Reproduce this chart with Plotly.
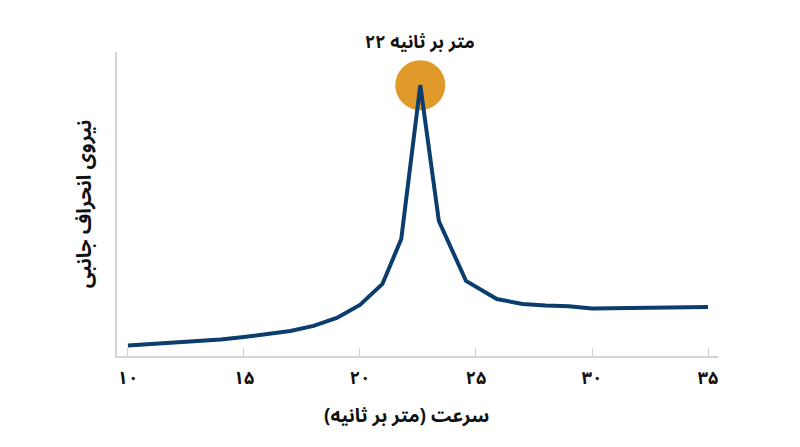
import plotly.graph_objects as go

# speed (m/s) and lateral deflection force (arbitrary units, 0-100)
speed = [10, 11, 12, 13, 14, 15, 16, 17, 18, 19, 20, 20.97, 21.78, 22.6, 23.4,
         24.57, 25.9, 27, 28, 29, 30, 31, 32, 33, 34, 35]
force = [3.45, 3.95, 4.4, 4.9, 5.4, 6.25, 7.1, 8.2, 9.9, 12.5, 16.8, 23.7, 38.5,
         89.1, 44.4, 24.7, 18.75, 17.1, 16.6, 16.4, 15.6, 15.7, 15.8, 15.9, 16.0, 16.1]

tick_vals = [10, 15, 20, 25, 30, 35]
tick_text = ["۱۰", "۱۵", "۲۰", "۲۵", "۳۰", "۳۵"]

peak_i = force.index(max(force))
# number placed last so it shows on the left, as in the picture
peak_label = "متر بر ثانیه ۲۲"
x_title = "سرعت (متر بر ثانیه)"
y_title = "نیروی انحراف جانبی"

FONT = "Noto Sans Arabic, Noto Naskh Arabic, DejaVu Sans, sans-serif"
BLUE = "#0b3d6e"
ORANGE = "#e09a2a"

fig = go.Figure()
fig.add_trace(go.Scatter(x=[speed[peak_i]], y=[force[peak_i]], mode="markers",
                         marker=dict(size=50, color=ORANGE), hoverinfo="skip"))
fig.add_trace(go.Scatter(x=speed, y=force, mode="lines",
                         line=dict(color=BLUE, width=4), hoverinfo="skip"))

fig.add_annotation(x=speed[peak_i], y=force[peak_i], text="<b>" + peak_label + "</b>",
                   showarrow=False, yshift=43, font=dict(size=18, color="#111", family=FONT))
# x title sits a little left of the plot centre in the picture
fig.add_annotation(x=0.4825, y=-0.196, xref="paper", yref="paper", yanchor="middle",
                   text="<b>" + x_title + "</b>", showarrow=False,
                   font=dict(size=19, color="#111", family=FONT))

# page is drawn with an 8px body offset, margins compensate
fig.update_layout(
    width=800, height=447,
    margin=dict(l=109, r=90, t=44, b=99),
    plot_bgcolor="white", paper_bgcolor="white",
    showlegend=False,
    font=dict(family=FONT, color="#111"),
    xaxis=dict(range=[9.53, 35.43], tickvals=tick_vals,
               ticktext=["<b>" + t + "</b>" for t in tick_text],
               tickfont=dict(size=18, color="#111"),
               showline=True, linecolor="#d4d4d4", linewidth=1.5,
               ticks="inside", ticklen=8, tickcolor="#d4d4d4", ticklabelstandoff=5,
               showgrid=False, zeroline=False),
    yaxis=dict(range=[0, 100], showticklabels=False, ticks="",
               showline=True, linecolor="#d4d4d4", linewidth=1.5,
               showgrid=False, zeroline=False,
               title=dict(text="<b>" + y_title + "</b>", font=dict(size=20), standoff=18)),
)

fig.write_html("out.html")
